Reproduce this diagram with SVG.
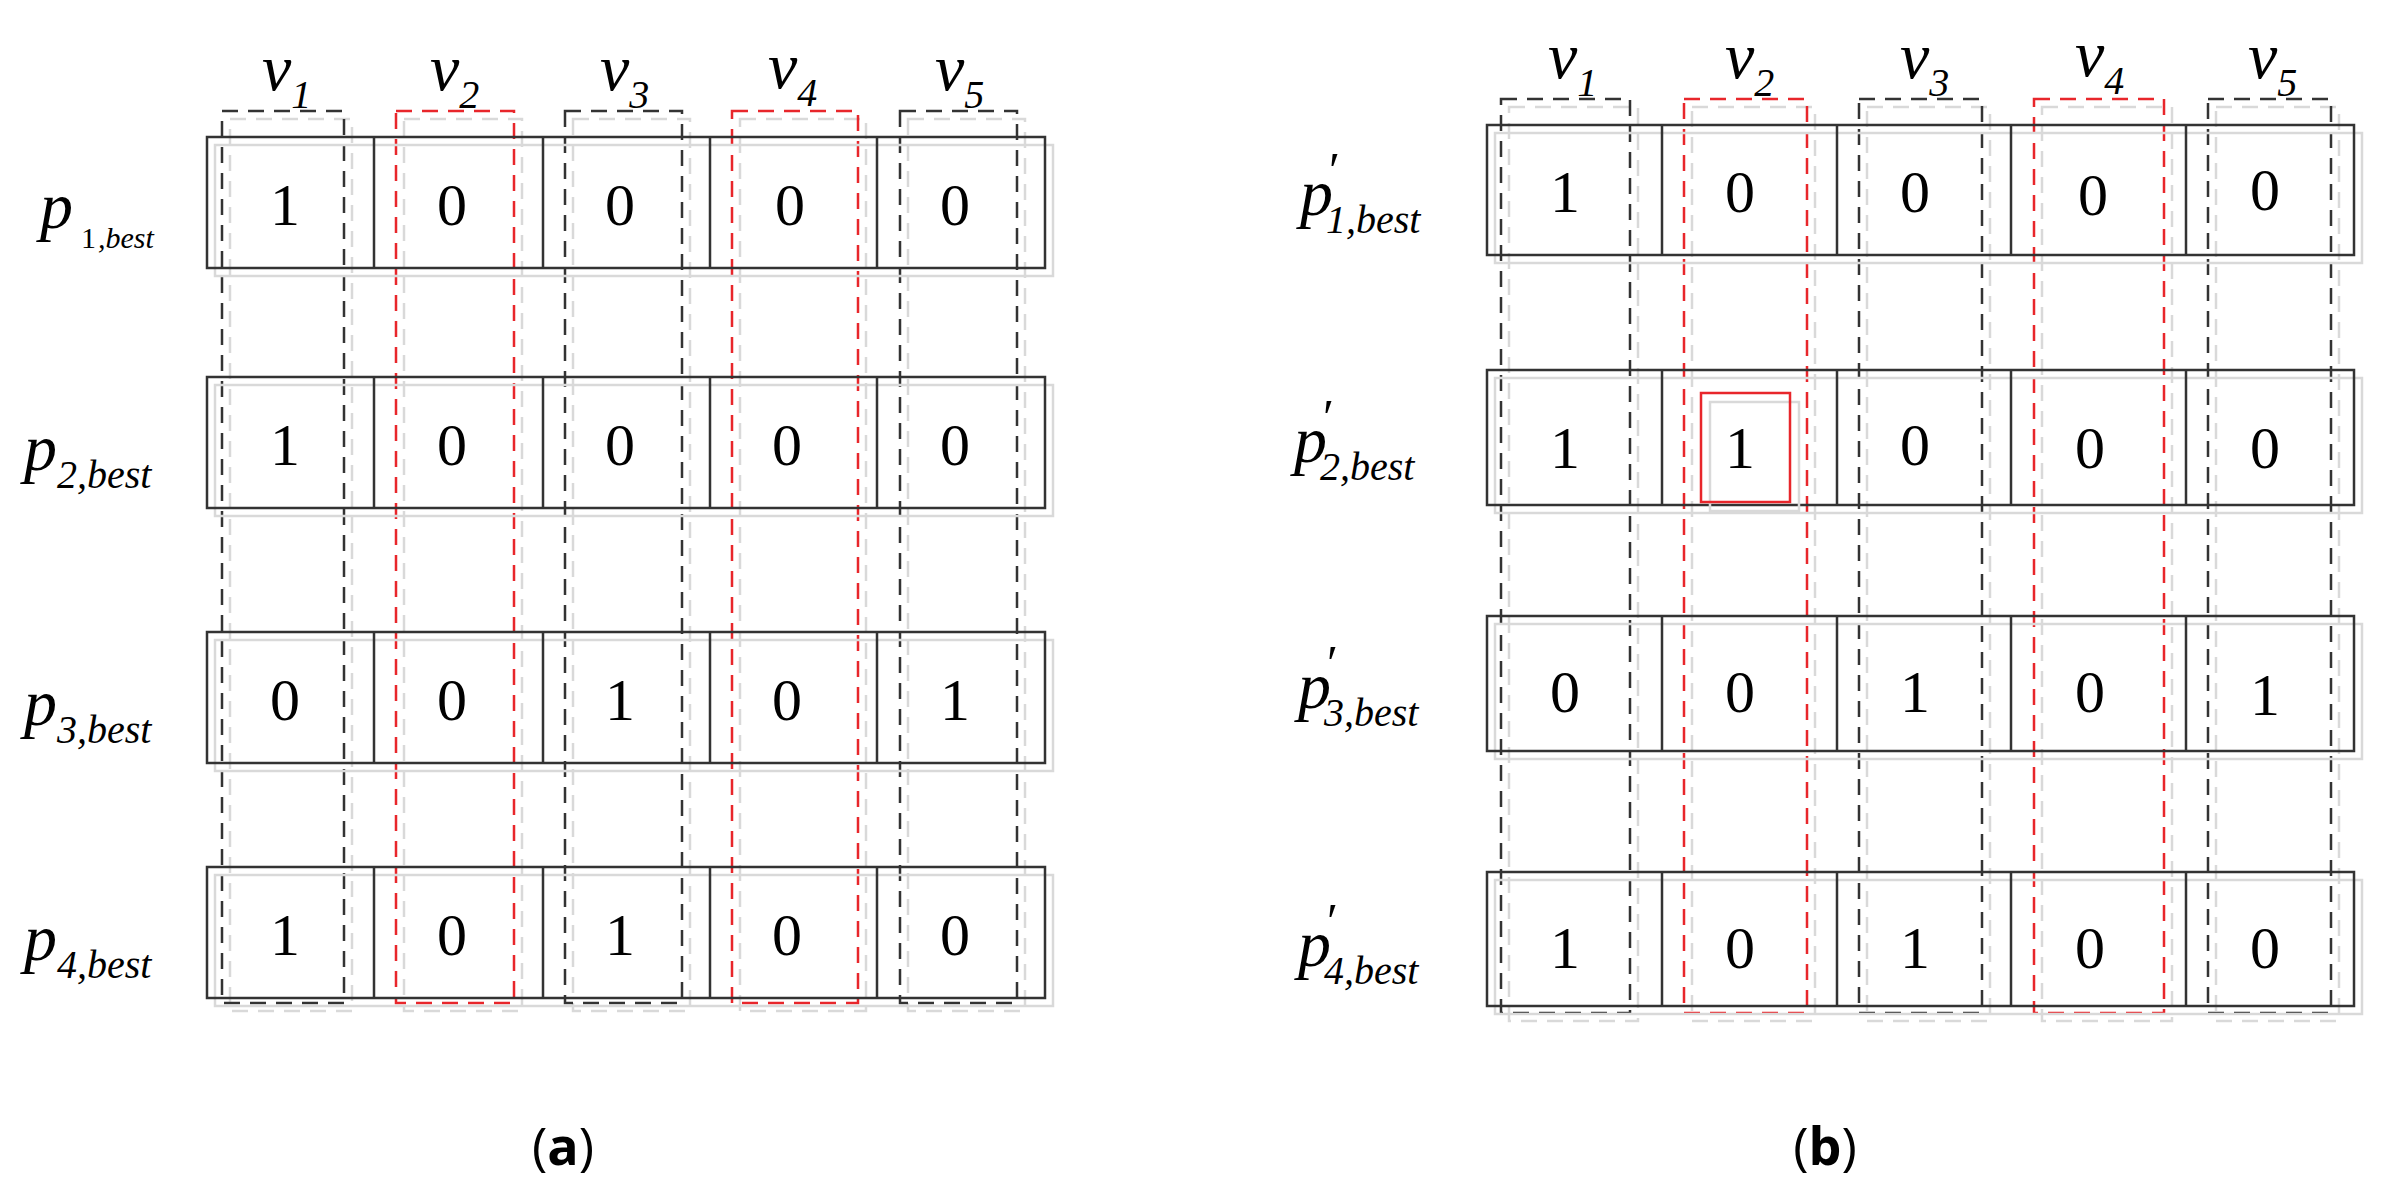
<svg xmlns="http://www.w3.org/2000/svg" xmlns:xlink="http://www.w3.org/1999/xlink" width="2384" height="1204" viewBox="0 0 2384 1204">
<style>
.c{fill:none;stroke:#333;stroke-width:2.5}
.g{fill:none;stroke:#d9d9d9;stroke-width:2.5}
.dk{fill:none;stroke:#333;stroke-width:2.5;stroke-dasharray:16,10}
.dr{fill:none;stroke:#e8262b;stroke-width:2.5;stroke-dasharray:16,10}
.dg{fill:none;stroke:#d9d9d9;stroke-width:2.5;stroke-dasharray:16,10}
.n{font-family:"Liberation Serif",serif;font-size:60px;text-anchor:middle;fill:#000}
.l{font-family:"Liberation Serif",serif;font-style:italic;font-size:66px;fill:#000}
.s{font-size:40px}
.cap{font-family:"Open Sans",sans-serif;font-size:52px;text-anchor:middle;fill:#000}
</style>
<rect width="2384" height="1204" fill="#fff"/>
<g id="panel-a">
<g id="cols-a">
<rect class="dg" x="230" y="119" width="122" height="892"/><rect class="dk" x="222" y="111" width="122" height="892"/>
<rect class="dg" x="404" y="119" width="118" height="892"/><rect class="dr" x="396" y="111" width="118" height="892"/>
<rect class="dg" x="573" y="119" width="117" height="892"/><rect class="dk" x="565" y="111" width="117" height="892"/>
<rect class="dg" x="740" y="119" width="126" height="892"/><rect class="dr" x="732" y="111" width="126" height="892"/>
<rect class="dg" x="908" y="119" width="117" height="892"/><rect class="dk" x="900" y="111" width="117" height="892"/>
</g>
<g id="labels-v-a" class="l">
<text x="262" y="90">v<tspan class="s" dy="18">1</tspan></text>
<text x="430" y="90">v<tspan class="s" dy="18">2</tspan></text>
<text x="600" y="90">v<tspan class="s" dy="18">3</tspan></text>
<text x="768" y="88">v<tspan class="s" dy="18">4</tspan></text>
<text x="935" y="90">v<tspan class="s" dy="18">5</tspan></text>
</g>
<g id="rows-a">
<g id="a-r1"><rect class="g" x="215" y="145" width="838" height="131"/><rect class="c" x="207" y="137" width="838" height="131"/><path class="c" d="M374 137V268M543 137V268M710 137V268M877 137V268"/>
<text class="n" x="285" y="225">1</text><text class="n" x="452" y="225">0</text><text class="n" x="620" y="225">0</text><text class="n" x="790" y="225">0</text><text class="n" x="955" y="225">0</text></g>
<g id="a-r2"><rect class="g" x="215" y="385" width="838" height="131"/><rect class="c" x="207" y="377" width="838" height="131"/><path class="c" d="M374 377V508M543 377V508M710 377V508M877 377V508"/>
<text class="n" x="285" y="465">1</text><text class="n" x="452" y="465">0</text><text class="n" x="620" y="465">0</text><text class="n" x="787" y="465">0</text><text class="n" x="955" y="465">0</text></g>
<g id="a-r3"><rect class="g" x="215" y="640" width="838" height="131"/><rect class="c" x="207" y="632" width="838" height="131"/><path class="c" d="M374 632V763M543 632V763M710 632V763M877 632V763"/>
<text class="n" x="285" y="720">0</text><text class="n" x="452" y="720">0</text><text class="n" x="620" y="720">1</text><text class="n" x="787" y="720">0</text><text class="n" x="955" y="720">1</text></g>
<g id="a-r4"><rect class="g" x="215" y="875" width="838" height="131"/><rect class="c" x="207" y="867" width="838" height="131"/><path class="c" d="M374 867V998M543 867V998M710 867V998M877 867V998"/>
<text class="n" x="285" y="955">1</text><text class="n" x="452" y="955">0</text><text class="n" x="620" y="955">1</text><text class="n" x="787" y="955">0</text><text class="n" x="955" y="955">0</text></g>
</g>
<g id="labels-p-a" class="l">
<text x="40" y="228">p<tspan font-size="30" dy="20" dx="8" font-style="normal">1</tspan><tspan font-size="30" dx="2">,best</tspan></text>
<text x="24" y="470">p<tspan class="s" dy="18">2,best</tspan></text>
<text x="24" y="725">p<tspan class="s" dy="18">3,best</tspan></text>
<text x="24" y="960">p<tspan class="s" dy="18">4,best</tspan></text>
</g>
<text class="cap" x="563" y="1165">(<tspan font-weight="bold">a</tspan>)</text>
</g>
<g id="panel-b">
<g id="cols-b">
<rect class="dg" x="1509" y="107" width="129" height="914"/><rect class="dk" x="1501" y="99" width="129" height="914"/>
<rect class="dg" x="1692" y="107" width="123" height="914"/><rect class="dr" x="1684" y="99" width="123" height="914"/>
<rect class="dg" x="1867" y="107" width="123" height="914"/><rect class="dk" x="1859" y="99" width="123" height="914"/>
<rect class="dg" x="2042" y="107" width="130" height="914"/><rect class="dr" x="2034" y="99" width="130" height="914"/>
<rect class="dg" x="2216" y="107" width="123" height="914"/><rect class="dk" x="2208" y="99" width="123" height="914"/>
</g>
<g id="labels-v-b" class="l">
<text x="1548" y="78">v<tspan class="s" dy="18">1</tspan></text>
<text x="1725" y="78">v<tspan class="s" dy="18">2</tspan></text>
<text x="1900" y="78">v<tspan class="s" dy="18">3</tspan></text>
<text x="2075" y="76">v<tspan class="s" dy="18">4</tspan></text>
<text x="2248" y="78">v<tspan class="s" dy="18">5</tspan></text>
</g>
<g id="rows-b">
<g id="b-r1"><rect class="g" x="1495" y="133" width="867" height="130"/><rect class="c" x="1487" y="125" width="867" height="130"/><path class="c" d="M1662 125V255M1837 125V255M2011 125V255M2186 125V255"/>
<text class="n" x="1565" y="212">1</text><text class="n" x="1740" y="212">0</text><text class="n" x="1915" y="212">0</text><text class="n" x="2093" y="215">0</text><text class="n" x="2265" y="210">0</text></g>
<g id="b-r2"><rect class="g" x="1495" y="378" width="867" height="135"/><rect class="c" x="1487" y="370" width="867" height="135"/><path class="c" d="M1662 370V505M1837 370V505M2011 370V505M2186 370V505"/>
<rect class="g" x="1710" y="402" width="89" height="109"/><rect fill="none" stroke="#e8262b" stroke-width="2.5" x="1701" y="393" width="89" height="109"/>
<text class="n" x="1565" y="468">1</text><text class="n" x="1740" y="468">1</text><text class="n" x="1915" y="465">0</text><text class="n" x="2090" y="468">0</text><text class="n" x="2265" y="468">0</text></g>
<g id="b-r3"><rect class="g" x="1495" y="624" width="867" height="135"/><rect class="c" x="1487" y="616" width="867" height="135"/><path class="c" d="M1662 616V751M1837 616V751M2011 616V751M2186 616V751"/>
<text class="n" x="1565" y="712">0</text><text class="n" x="1740" y="712">0</text><text class="n" x="1915" y="712">1</text><text class="n" x="2090" y="712">0</text><text class="n" x="2265" y="715">1</text></g>
<g id="b-r4"><rect class="g" x="1495" y="880" width="867" height="134"/><rect class="c" x="1487" y="872" width="867" height="134"/><path class="c" d="M1662 872V1006M1837 872V1006M2011 872V1006M2186 872V1006"/>
<text class="n" x="1565" y="968">1</text><text class="n" x="1740" y="968">0</text><text class="n" x="1915" y="968">1</text><text class="n" x="2090" y="968">0</text><text class="n" x="2265" y="968">0</text></g>
</g>
<g id="labels-p-b" class="l">
<text x="1300" y="215">p<tspan dx="-4" dy="-28" font-style="normal" font-size="50">′</tspan><tspan class="s" dx="-14" dy="46">1,best</tspan></text>
<text x="1294" y="462">p<tspan dx="-4" dy="-28" font-style="normal" font-size="50">′</tspan><tspan class="s" dx="-14" dy="46">2,best</tspan></text>
<text x="1298" y="708">p<tspan dx="-4" dy="-28" font-style="normal" font-size="50">′</tspan><tspan class="s" dx="-14" dy="46">3,best</tspan></text>
<text x="1298" y="966">p<tspan dx="-4" dy="-28" font-style="normal" font-size="50">′</tspan><tspan class="s" dx="-14" dy="46">4,best</tspan></text>
</g>
<text class="cap" x="1825" y="1165">(<tspan font-weight="bold">b</tspan>)</text>
</g>
</svg>
